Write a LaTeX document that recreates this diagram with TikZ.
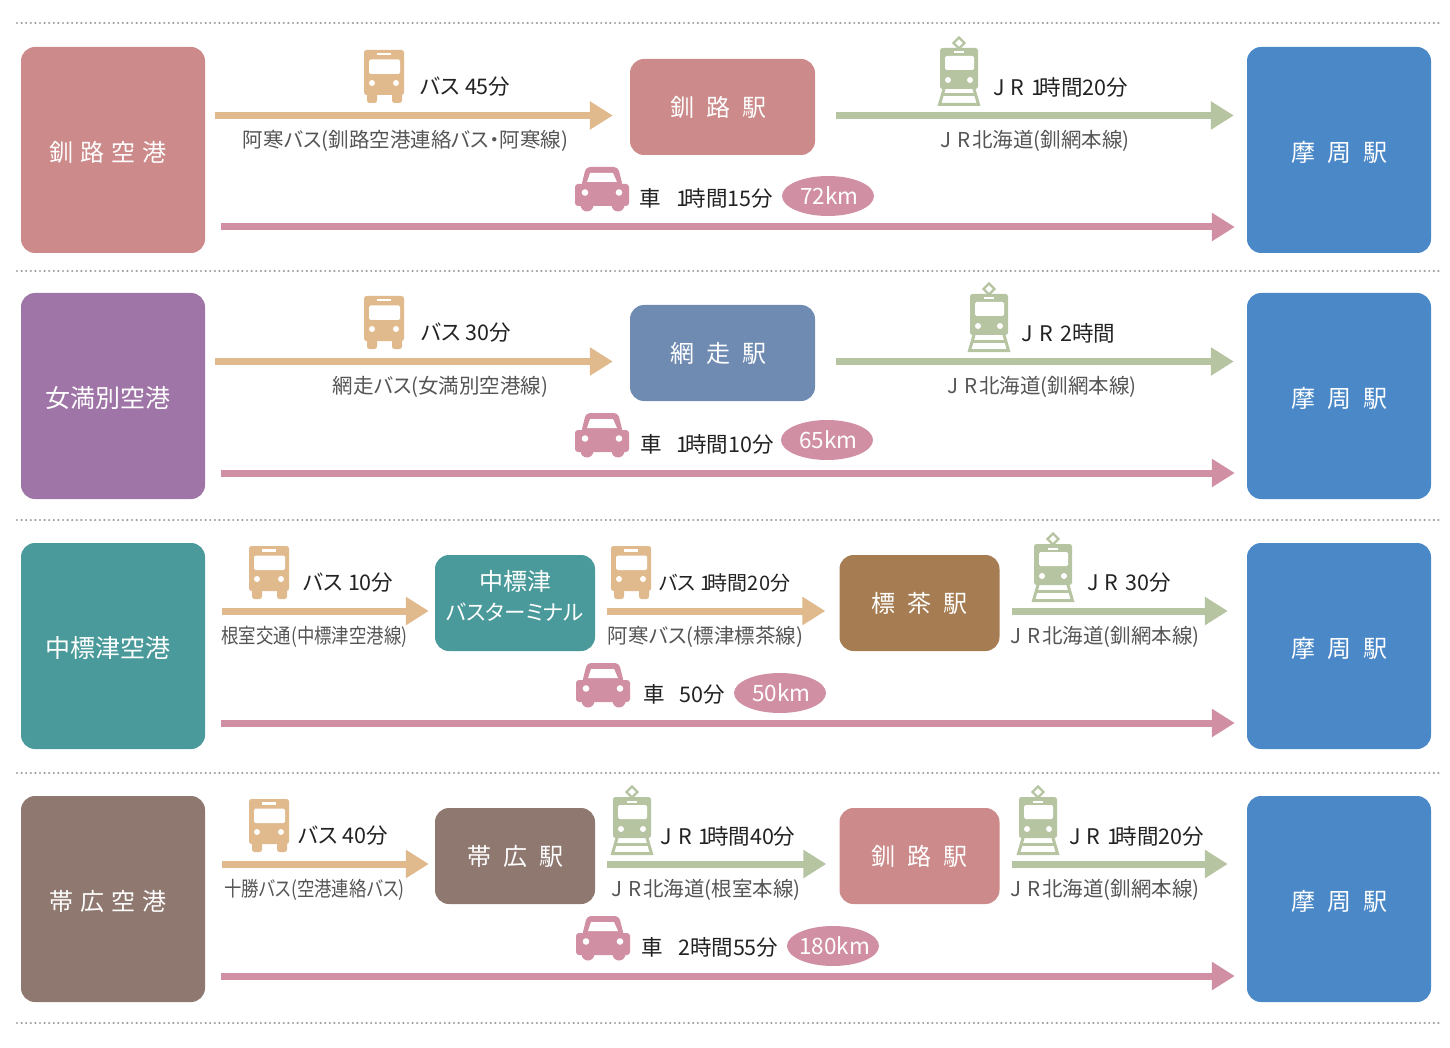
\documentclass[tikz,border=0pt]{standalone}
\usepackage{fontspec}
\setmainfont{Noto Sans CJK JP}[RawFeature={+palt}]
\newfontfamily\narrowjp{Noto Sans CJK JP}[RawFeature={+palt},FakeStretch=0.85]
\usetikzlibrary{arrows.meta,calc,shapes.geometric}

\definecolor{rosebox}{HTML}{CC8A8A}
\definecolor{purplebox}{HTML}{9F74A6}
\definecolor{bluebox}{HTML}{4A88C8}
\definecolor{slatebox}{HTML}{6F8BB2}
\definecolor{tealbox}{HTML}{4A9A9B}
\definecolor{ochrebox}{HTML}{A67C52}
\definecolor{taupebox}{HTML}{8F7870}
\definecolor{busc}{HTML}{E0B98C}
\definecolor{trainc}{HTML}{B6C4A2}
\definecolor{carc}{HTML}{D18FA4}
\definecolor{routetext}{HTML}{555555}
\definecolor{timetext}{HTML}{222222}
\definecolor{rulec}{HTML}{A0A0A0}

\newcommand{\sz}[1]{\fontsize{#1}{#1}\selectfont}
% letter gaps in place names
\newcommand{\sepf}{\kern7pt}
\newcommand{\sept}{\kern12pt}
% the spaced initials of the railway and the tight "1" of the durations
\newcommand{\JRt}{J\kern6pt R\kern7pt}
\newcommand{\JRr}{J\kern6pt R\kern2pt}
\newcommand{\ichi}{1\kern-3.5pt}
\newcommand{\kuruma}{車\kern15pt}
\newcommand{\km}[1]{\makebox[0pt]{\kern3pt #1}}

\tikzset{
  x=1pt, y=-1pt,
  placebox/.style={rounded corners=14pt, text=white, align=center, inner sep=0pt,
    font=\sz{24}},
  terminus/.style={placebox, minimum width=184pt, minimum height=206pt,
    text height=26pt, text depth=3pt},
  stopbox/.style={placebox, minimum width=185pt, minimum height=96pt},
  smallstop/.style={placebox, minimum width=160pt, minimum height=96pt},
  timelabel/.style={text=timetext, inner sep=0pt, font=\sz{21.5}},
  routelabel/.style={text=routetext, inner sep=0pt, font=\sz{20.5}},
  narrowroute/.style={routelabel, font=\narrowjp\sz{20.5}},
  kmpill/.style={ellipse, fill=carc, text=white, inner sep=0pt,
    minimum width=92pt, minimum height=40pt, font=\sz{22.5}},
  legline/.style={line width=7pt, -{Triangle[length=23pt,width=27pt]}},
  busleg/.style={legline, draw=busc},
  trainleg/.style={legline, draw=trainc},
  carleg/.style={legline, draw=carc},
  ruleline/.style={draw=rulec, line width=2.4pt, line cap=round, dash pattern=on 0pt off 4.6pt},
  busicon/.pic={
    \fill[busc, rounded corners=2.5pt] (0,0) rectangle (40,45);
    \fill[busc, rounded corners=2.5pt] (3,38) rectangle (13,53);
    \fill[busc, rounded corners=2.5pt] (28,38) rectangle (38,53);
    \fill[white, rounded corners=1.5pt] (5,9.5) rectangle (36,24);
    \fill[white] (13,3) rectangle (27,5.5);
    \fill[white] (8,33) circle (3);
    \fill[white] (32,33) circle (3);
  },
  trainicon/.pic={
    \draw[trainc, line width=2.2pt] (21,0.5) -- (26.5,6) -- (21,11.5) -- (15.5,6) -- cycle;
    \fill[trainc, rounded corners=2.5pt] (2,11) rectangle (40,52);
    \fill[white, rounded corners=1.5pt] (7,19) rectangle (36,33);
    \fill[white] (16,14.5) rectangle (26,16.5);
    \fill[white] (10,43) circle (3);
    \fill[white] (32,43) circle (3);
    \draw[trainc, line width=3pt, line cap=round] (6,52) -- (1.5,67.5) -- (40.5,67.5) -- (36,52);
    \draw[trainc, line width=3pt] (4,58) -- (38,58);
  },
  caricon/.pic={
    \fill[carc, rounded corners=3pt] (0,17) rectangle (54,39);
    \fill[carc, rounded corners=4pt] (6,20) -- (11,0) -- (43,0) -- (48,20) -- cycle;
    \fill[carc] (12,38) circle (6.5);
    \fill[carc] (43,38) circle (6.5);
    \fill[white] (15,6) -- (38,6) -- (42,15) -- (12,15) -- cycle;
    \fill[white] (10,25.5) circle (3.3);
    \fill[white] (44,25.5) circle (3.3);
  },
}

\begin{document}
\begin{tikzpicture}
\useasboundingbox (0,0) rectangle (1450,1048);

% dotted separators between the four routes
\coordinate (r0a) at (17,23);  \coordinate (r0b) at (1440,23);
\coordinate (r1a) at (17,271); \coordinate (r1b) at (1440,271);
\coordinate (r2a) at (17,520); \coordinate (r2b) at (1440,520);
\coordinate (r3a) at (17,773); \coordinate (r3b) at (1440,773);
\coordinate (r4a) at (17,1023);\coordinate (r4b) at (1440,1023);
\foreach \k in {0,...,4} \draw[ruleline] (r\k a) -- (r\k b);

% ---- Kushiro airport ----
\node[terminus, fill=rosebox] (airA) at (113,150) {釧\sepf 路\sepf 空\sepf 港\kern10pt};
\node[terminus, fill=bluebox] (endA) at (1339,150) {摩\sept 周\sept 駅};
\node[stopbox, fill=rosebox] (stA) at (722.5,107) {釧\sept 路\sept 駅\kern9pt};
\pic at (364,50) {busicon};
\pic at (938,37) {trainicon};
\pic at (575,167) {caricon};
\node[timelabel] (tA1) at (465.5,87) {バス 45分};
\node[timelabel] (tA2) at (1060.5,87) {\JRt\ichi 時間20分};
\node[timelabel] (tA3) at (706.5,198) {\kuruma\ichi 時間15分};
\node[routelabel] (rA1) at (405.5,140.5) {阿寒バス(釧路空港連絡バス・阿寒線)};
\node[routelabel] (rA2) at (1035,140.5) {\JRr 北海道(釧網本線)};
\node[kmpill] (dA) at (828,196) {\km{72km}};
\draw[busleg] ($(airA.east |- stA.west)+(10,8.5)$) -- ($(stA.west)+(-17,8.5)$);
\draw[trainleg] ($(stA.east)+(21,8.5)$) -- ($(endA.west |- stA.east)+(-13,8.5)$);
\draw[carleg] ($(airA.east)+(16,77)$) -- ($(endA.west)+(-12,77)$);

% ---- Memanbetsu airport ----
\node[terminus, fill=purplebox, font=\sz{25}] (airB) at (113,396) {女満別空港\kern10pt};
\node[terminus, fill=bluebox] (endB) at (1339,396) {摩\sept 周\sept 駅};
\node[stopbox, fill=slatebox] (stB) at (722.5,353) {網\sept 走\sept 駅\kern9pt};
\pic at (364,296) {busicon};
\pic at (968,283) {trainicon};
\pic at (575,413) {caricon};
\node[timelabel] (tB1) at (466,333) {バス 30分};
\node[timelabel] (tB2) at (1068.5,333) {\JRt 2時間};
\node[timelabel] (tB3) at (707,444) {\kuruma\ichi 時間10分};
\node[routelabel] (rB1) at (440.5,386.5) {網走バス(女満別空港線)};
\node[routelabel] (rB2) at (1042,386.5) {\JRr 北海道(釧網本線)};
\node[kmpill] (dB) at (827,440) {\km{65km}};
\draw[busleg] ($(airB.east |- stB.west)+(10,8.5)$) -- ($(stB.west)+(-17,8.5)$);
\draw[trainleg] ($(stB.east)+(21,8.5)$) -- ($(endB.west |- stB.east)+(-13,8.5)$);
\draw[carleg] ($(airB.east)+(16,77)$) -- ($(endB.west)+(-12,77)$);

% ---- Nakashibetsu airport ----
\node[terminus, fill=tealbox, font=\sz{25}] (airC) at (113,646) {中標津空港\kern10pt};
\node[terminus, fill=bluebox] (endC) at (1339,646) {摩\sept 周\sept 駅};
\node[smallstop, fill=tealbox, text depth=15pt] (stC1) at (515,603) {中標津\\[6pt]{\sz{21.5}バスターミナル}};
\node[smallstop, fill=ochrebox] (stC2) at (919.5,603) {標\sept 茶\sept 駅};
\pic at (249,546) {busicon};
\pic at (611,546) {busicon};
\pic at (1032,533) {trainicon};
\pic at (576,663) {caricon};
\node[timelabel] (tC1) at (348.5,583) {バス 10分};
\node[timelabel, font=\sz{20}] (tC2) at (724.5,583) {バス \ichi 時間20分};
\node[timelabel] (tC3) at (1129,583) {\JRt 30分};
\node[timelabel] (tC4) at (684,694) {\kuruma 50分};
\node[narrowroute] (rC1) at (314.5,636.5) {根室交通(中標津空港線)};
\node[routelabel] (rC2) at (705.5,636.5) {阿寒バス(標津標茶線)};
\node[routelabel] (rC3) at (1105,636.5) {\JRr 北海道(釧網本線)};
\node[kmpill] (dC) at (780,693) {\km{50km}};
\draw[busleg] ($(airC.east |- stC1.west)+(17,8)$) -- ($(stC1.west)+(-6,8)$);
\draw[busleg] ($(stC1.east)+(12,8)$) -- ($(stC2.west)+(-14,8)$);
\draw[trainleg] ($(stC2.east)+(12.5,8)$) -- ($(endC.west |- stC2.east)+(-19,8)$);
\draw[carleg] ($(airC.east)+(16,77)$) -- ($(endC.west)+(-12,77)$);

% ---- Obihiro airport ----
\node[terminus, fill=taupebox] (airD) at (113,899) {帯\sepf 広\sepf 空\sepf 港\kern10pt};
\node[terminus, fill=bluebox] (endD) at (1339,899) {摩\sept 周\sept 駅};
\node[smallstop, fill=taupebox] (stD1) at (515,856) {帯\sept 広\sept 駅};
\node[smallstop, fill=rosebox] (stD2) at (919.5,856) {釧\sept 路\sept 駅};
\pic at (249,799) {busicon};
\pic at (611,786) {trainicon};
\pic at (1017,786) {trainicon};
\pic at (576,916) {caricon};
\node[timelabel] (tD1) at (343,836) {バス 40分};
\node[timelabel] (tD2) at (728,836) {\JRt\ichi 時間40分};
\node[timelabel] (tD3) at (1136.5,836) {\JRt\ichi 時間20分};
\node[timelabel] (tD4) at (710,947) {\kuruma 2時間55分};
\node[narrowroute] (rD1) at (314.5,889.5) {十勝バス(空港連絡バス)};
\node[routelabel] (rD2) at (706,889.5) {\JRr 北海道(根室本線)};
\node[routelabel] (rD3) at (1105,889.5) {\JRr 北海道(釧網本線)};
\node[kmpill] (dD) at (833,946) {\km{180km}};
\draw[busleg] ($(airD.east |- stD1.west)+(17,8)$) -- ($(stD1.west)+(-6,8)$);
\draw[trainleg] ($(stD1.east)+(12,8)$) -- ($(stD2.west)+(-13,8)$);
\draw[trainleg] ($(stD2.east)+(12.5,8)$) -- ($(endD.west |- stD2.east)+(-19,8)$);
\draw[carleg] ($(airD.east)+(16,77)$) -- ($(endD.west)+(-12,77)$);
\end{tikzpicture}
\end{document}
